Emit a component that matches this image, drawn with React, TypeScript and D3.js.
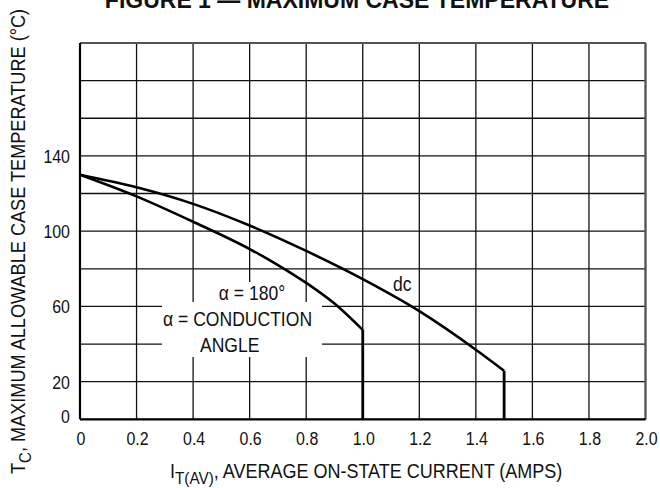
import React from 'react';
import * as d3 from 'd3';

// Curves: current (A) vs max case temperature (°C)
const conductionCurrent = [0, 0.2, 0.4, 0.6, 0.7, 0.8, 0.9, 1.0];
const conductionTemp = [130, 118.5, 105, 90.5, 82, 72.5, 61.5, 47.5];
const dcCurrent = [0, 0.2, 0.4, 0.6, 0.8, 1.0, 1.2, 1.4, 1.5];
const dcTemp = [130, 123.3, 114.5, 103, 89.5, 74.5, 57.5, 37, 25.8];

const xTicks = [0, 0.2, 0.4, 0.6, 0.8, 1.0, 1.2, 1.4, 1.6, 1.8, 2.0];
const yGrid = [0, 20, 40, 60, 80, 100, 120, 140, 160, 180, 200];
const yLabels = [0, 20, 60, 100, 140];

const W = 660;
const H = 488;
const FONT = "'Liberation Sans', Arial, sans-serif";

// condensed text: the figure uses a narrow Helvetica, squeeze horizontally
function Narrow({ x, y, sx = 0.85, rotate = 0, anchor = 'start', size = 19, children }: any) {
  return (
    <text
      transform={`translate(${x},${y}) rotate(${rotate}) scale(${sx},1)`}
      textAnchor={anchor}
      fontSize={size}
    >
      {children}
    </text>
  );
}

export default function App() {
  const x = d3.scaleLinear().domain([0, 2]).range([80, 645.5]);
  const y = d3.scaleLinear().domain([0, 200]).range([419.3, 43]);

  const line = d3
    .line<[number, number]>()
    .x((d) => x(d[0]))
    .y((d) => y(d[1]))
    .curve(d3.curveMonotoneX);

  const conduction = conductionCurrent.map((c, i) => [c, conductionTemp[i]] as [number, number]);
  const dc = dcCurrent.map((c, i) => [c, dcTemp[i]] as [number, number]);
  const endC = conduction[conduction.length - 1];
  const endD = dc[dc.length - 1];

  const fmt = (v: number) => (v === 0 ? '0' : d3.format('.1f')(v));

  return (
    <svg width={W} height={H} style={{ position: 'absolute', left: 0, top: 0, background: '#fff' }}>
      <rect width={W} height={H} fill="#fff" />

      {/* grid */}
      {xTicks.map((t) => (
        <line key={'gx' + t} x1={x(t)} x2={x(t)} y1={y(0)} y2={y(200)} stroke="#111" strokeWidth={1.3} />
      ))}
      {yGrid.map((t) => (
        <line key={'gy' + t} x1={x(0)} x2={x(2)} y1={y(t)} y2={y(t)} stroke="#111" strokeWidth={1.3} />
      ))}

      {/* frame */}
      <line x1={x(0)} x2={x(2)} y1={y(200)} y2={y(200)} stroke="#555" strokeWidth={2.2} />
      <line x1={x(2)} x2={x(2)} y1={y(200)} y2={y(0)} stroke="#555" strokeWidth={2.2} />
      <line x1={x(0)} x2={x(0)} y1={y(200)} y2={y(0)} stroke="#000" strokeWidth={2.2} />
      <line x1={x(0)} x2={x(2)} y1={y(0)} y2={y(0)} stroke="#000" strokeWidth={2.2} />

      {/* annotation boxes masking the grid */}
      <rect x={205} y={282} width={95} height={20} fill="#fff" />
      <rect x={162} y={302} width={160} height={55} fill="#fff" />

      {/* curves */}
      <path d={line(conduction) || ''} fill="none" stroke="#000" strokeWidth={2.6} />
      <line x1={x(endC[0])} x2={x(endC[0])} y1={y(endC[1])} y2={y(0)} stroke="#000" strokeWidth={2.8} />
      <path d={line(dc) || ''} fill="none" stroke="#000" strokeWidth={2.6} />
      <line x1={x(endD[0])} x2={x(endD[0])} y1={y(endD[1])} y2={y(0)} stroke="#000" strokeWidth={2.8} />

      <g fontFamily={FONT} fill="#111">
        {/* y tick labels */}
        {yLabels.map((t) => (
          <Narrow key={'yl' + t} x={70} y={y(t) + (t === 0 ? 4 : 7)} anchor="end" sx={0.84}>
            {t}
          </Narrow>
        ))}
        {/* x tick labels */}
        {xTicks.map((t) => (
          <Narrow key={'xl' + t} x={x(t) + 1} y={445} anchor="middle" sx={0.84}>
            {fmt(t)}
          </Narrow>
        ))}

        {/* annotations */}
        <Narrow x={252} y={300} anchor="middle" size={19.5} sx={0.9}>α = 180°</Narrow>
        <Narrow x={163} y={326} size={19.5} sx={0.9}>α = CONDUCTION</Narrow>
        <Narrow x={200} y={352} size={19.5} sx={0.9}>ANGLE</Narrow>
        <Narrow x={393} y={291} size={19.5} sx={0.9}>dc</Narrow>

        {/* axis titles */}
        <Narrow x={170} y={478} size={20} sx={0.9}>
          I<tspan fontSize={17} dy={6}>T(AV)</tspan>
          <tspan dy={-6}>, AVERAGE ON-STATE CURRENT (AMPS)</tspan>
        </Narrow>
        <Narrow x={25} y={474} rotate={-90} size={20.5} sx={0.885}>
          T<tspan fontSize={17} dy={6}>C</tspan>
          <tspan dy={-6}>, MAXIMUM ALLOWABLE CASE TEMPERATURE (°C)</tspan>
        </Narrow>
      </g>

      <text x={357} y={8} textAnchor="middle" fontFamily={FONT} fontWeight="bold" fontSize={23} fill="#111">
        FIGURE 1 — MAXIMUM CASE TEMPERATURE
      </text>
    </svg>
  );
}
